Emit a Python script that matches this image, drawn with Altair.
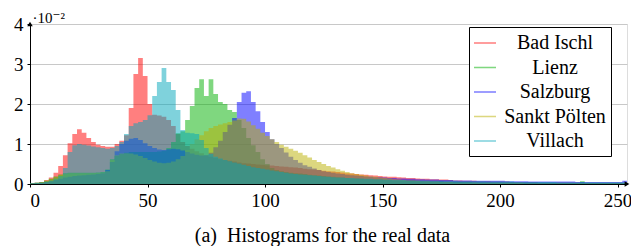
import altair as alt
import pandas as pd

cities = ["Bad Ischl", "Lienz", "Salzburg", "Sankt Pölten", "Villach"]
colors = ["#ff0000", "#00af00", "#0000ff", "#b9af00", "#00a5b9"]

x_domain = [0, 254]
y_domain = [0, 4]
x_ticks = [0, 50, 100, 150, 200, 250]
y_ticks = [0, 1, 2, 3, 4]

# bin starts (width 2) for grey values 0..255
bins = list(range(0, 256, 2))

# relative frequencies in units of 1e-2, one value per bin
bad_ischl = [
    0.02, 0.03, 0.05, 0.10, 0.16, 0.28, 0.45, 0.72, 1.02, 1.25,
    1.37, 1.28, 1.15, 1.05, 0.98, 0.95, 0.93, 0.93, 1.00, 1.08,
    1.22, 1.90, 2.75, 3.15, 2.70, 2.00, 1.73, 1.71, 1.68, 1.60,
    1.45, 1.25, 1.05, 0.95, 0.88, 0.82, 0.77, 0.72, 0.68, 0.65,
    0.62, 0.60, 0.58, 0.56, 0.54, 0.52, 0.51, 0.50, 0.49, 0.48,
    0.47, 0.46, 0.45, 0.44, 0.43, 0.42, 0.41, 0.40, 0.38, 0.37,
    0.36, 0.35, 0.33, 0.32, 0.31, 0.30, 0.29, 0.27, 0.26, 0.25,
    0.24, 0.23, 0.22, 0.21, 0.20, 0.19, 0.18, 0.18, 0.17, 0.16,
    0.15, 0.15, 0.14, 0.13, 0.13, 0.12, 0.12, 0.11, 0.11, 0.10,
    0.09, 0.09, 0.08, 0.08, 0.08, 0.07, 0.07, 0.07, 0.06, 0.06,
    0.06, 0.06, 0.05, 0.05, 0.05, 0.05, 0.05, 0.05, 0.04, 0.04,
    0.04, 0.04, 0.04, 0.04, 0.04, 0.04, 0.04, 0.03, 0.03, 0.03,
    0.03, 0.03, 0.03, 0.03, 0.03, 0.03, 0.03, 0.04,
]
lienz = [
    0.02, 0.03, 0.05, 0.08, 0.13, 0.19, 0.24, 0.27, 0.28, 0.28,
    0.28, 0.28, 0.28, 0.28, 0.29, 0.30, 0.36, 0.62, 0.70, 0.75,
    0.78, 0.80, 0.80, 0.80, 0.80, 0.80, 0.80, 0.81, 0.83, 0.90,
    1.05, 1.27, 1.32, 1.60, 1.95, 2.40, 2.62, 2.20, 2.62, 2.25,
    2.05, 2.00, 1.85, 1.80, 1.60, 1.40, 1.15, 0.97, 0.80, 0.62,
    0.50, 0.40, 0.35, 0.32, 0.30, 0.28, 0.27, 0.26, 0.25, 0.23,
    0.22, 0.21, 0.20, 0.19, 0.18, 0.17, 0.16, 0.15, 0.14, 0.14,
    0.13, 0.12, 0.12, 0.11, 0.11, 0.10, 0.10, 0.09, 0.09, 0.08,
    0.08, 0.08, 0.07, 0.07, 0.06, 0.06, 0.06, 0.06, 0.05, 0.05,
    0.05, 0.05, 0.05, 0.05, 0.04, 0.04, 0.04, 0.04, 0.04, 0.04,
    0.04, 0.04, 0.04, 0.03, 0.03, 0.03, 0.03, 0.03, 0.03, 0.03,
    0.03, 0.03, 0.03, 0.03, 0.03, 0.03, 0.03, 0.07, 0.03, 0.03,
    0.03, 0.03, 0.03, 0.03, 0.03, 0.03, 0.03, 0.03,
]
salzburg = [
    0.01, 0.02, 0.03, 0.05, 0.07, 0.10, 0.13, 0.16, 0.18, 0.20,
    0.21, 0.22, 0.23, 0.24, 0.25, 0.27, 0.35, 0.55, 0.82, 1.00,
    1.08, 1.13, 1.15, 1.10, 1.02, 0.95, 0.90, 0.86, 0.85, 0.87,
    0.88, 0.87, 0.84, 0.80, 0.76, 0.73, 0.71, 0.72, 0.78, 0.92,
    1.08, 1.30, 1.48, 1.65, 2.05, 2.28, 2.32, 2.05, 1.82, 1.55,
    1.30, 1.12, 1.00, 0.90, 0.79, 0.68, 0.60, 0.53, 0.47, 0.43,
    0.39, 0.35, 0.32, 0.30, 0.28, 0.26, 0.25, 0.23, 0.22, 0.21,
    0.20, 0.19, 0.18, 0.17, 0.17, 0.16, 0.15, 0.15, 0.14, 0.14,
    0.13, 0.13, 0.12, 0.12, 0.11, 0.11, 0.11, 0.10, 0.10, 0.10,
    0.09, 0.09, 0.09, 0.09, 0.08, 0.08, 0.08, 0.08, 0.08, 0.08,
    0.08, 0.07, 0.07, 0.07, 0.07, 0.07, 0.06, 0.06, 0.06, 0.06,
    0.06, 0.06, 0.06, 0.06, 0.06, 0.06, 0.05, 0.05, 0.05, 0.05,
    0.05, 0.05, 0.05, 0.05, 0.05, 0.05, 0.08, 0.12,
]
sankt_poelten = [
    0.02, 0.03, 0.05, 0.08, 0.12, 0.17, 0.22, 0.25, 0.27, 0.27,
    0.27, 0.27, 0.27, 0.27, 0.27, 0.28, 0.32, 0.60, 0.72, 0.76,
    0.77, 0.76, 0.74, 0.70, 0.65, 0.60, 0.56, 0.53, 0.52, 0.53,
    0.56, 0.62, 0.70, 0.85, 1.00, 1.12, 1.22, 1.32, 1.40, 1.45,
    1.49, 1.52, 1.55, 1.59, 1.64, 1.63, 1.56, 1.47, 1.38, 1.28,
    1.20, 1.12, 1.05, 0.98, 0.93, 0.88, 0.83, 0.78, 0.72, 0.66,
    0.60, 0.55, 0.50, 0.45, 0.41, 0.37, 0.33, 0.30, 0.27, 0.25,
    0.23, 0.21, 0.19, 0.18, 0.16, 0.15, 0.14, 0.12, 0.11, 0.10,
    0.09, 0.09, 0.08, 0.07, 0.07, 0.06, 0.06, 0.05, 0.05, 0.05,
    0.04, 0.04, 0.04, 0.04, 0.04, 0.03, 0.03, 0.03, 0.03, 0.03,
    0.03, 0.03, 0.03, 0.03, 0.03, 0.02, 0.02, 0.02, 0.02, 0.02,
    0.02, 0.02, 0.02, 0.02, 0.02, 0.02, 0.02, 0.02, 0.02, 0.02,
    0.02, 0.02, 0.02, 0.02, 0.02, 0.02, 0.02, 0.02,
]
villach = [
    0.02, 0.03, 0.04, 0.06, 0.09, 0.14, 0.20, 0.40, 0.80, 0.97,
    1.00, 0.98, 0.96, 0.94, 0.92, 0.90, 0.88, 0.90, 0.95, 1.05,
    1.25, 1.45, 1.52, 1.55, 1.60, 1.72, 2.20, 2.55, 2.90, 2.55,
    2.35, 1.85, 1.35, 1.28, 1.27, 1.25, 1.10, 0.90, 0.75, 0.68,
    0.64, 0.60, 0.57, 0.54, 0.51, 0.48, 0.45, 0.42, 0.40, 0.38,
    0.36, 0.34, 0.32, 0.30, 0.28, 0.26, 0.25, 0.24, 0.23, 0.22,
    0.21, 0.20, 0.19, 0.18, 0.17, 0.16, 0.16, 0.15, 0.15, 0.14,
    0.14, 0.13, 0.13, 0.12, 0.12, 0.11, 0.11, 0.10, 0.10, 0.10,
    0.09, 0.09, 0.09, 0.09, 0.09, 0.08, 0.08, 0.08, 0.08, 0.08,
    0.08, 0.07, 0.07, 0.07, 0.07, 0.07, 0.07, 0.06, 0.06, 0.06,
    0.06, 0.06, 0.06, 0.05, 0.05, 0.05, 0.05, 0.05, 0.05, 0.05,
    0.05, 0.05, 0.04, 0.04, 0.04, 0.04, 0.04, 0.04, 0.04, 0.04,
    0.04, 0.04, 0.04, 0.04, 0.04, 0.04, 0.04, 0.04,
]

series = [bad_ischl, lienz, salzburg, sankt_poelten, villach]

rows = []
for city, vals in zip(cities, series):
    for b, v in zip(bins, vals):
        rows.append({"city": city, "g": b, "p": v})
    # closing edge of the last bin for the step outline
    rows.append({"city": city, "g": bins[-1] + 2, "p": vals[-1]})
df = pd.DataFrame(rows)

# arrow heads at the ends of both axis lines (taken from the axis domains)
arrows = pd.DataFrame(
    [
        {"g": x_domain[1], "p": y_domain[0], "shape": "triangle-right"},
        {"g": x_domain[0], "p": y_domain[1], "shape": "triangle-up"},
    ]
)

serif = "'Liberation Serif', 'Times New Roman', 'DejaVu Serif', serif"

x_scale = alt.Scale(domain=x_domain, nice=False, zero=False)
y_scale = alt.Scale(domain=y_domain, nice=False)

x_axis = alt.Axis(
    values=x_ticks,
    title=None,
    grid=False,
    tickSize=3,
    labelPadding=4,
    labelFont=serif,
    labelFontSize=19,
    labelColor="black",
    domainColor="black",
    tickColor="black",
)
y_axis = alt.Axis(
    values=y_ticks,
    title="·10⁻²",
    titleAngle=0,
    titleX=2,
    titleY=-2,
    titleAlign="left",
    titleBaseline="alphabetic",
    titleFont=serif,
    titleFontSize=15,
    titleFontWeight="normal",
    titleColor="black",
    grid=True,
    gridColor="#c8c8c8",
    tickSize=3,
    labelPadding=4,
    labelFont=serif,
    labelFontSize=19,
    labelColor="black",
    domainColor="black",
    tickColor="black",
)

areas = (
    alt.Chart(df)
    .mark_area(interpolate="step-after", opacity=0.5, clip=True)
    .encode(
        x=alt.X("g:Q", scale=x_scale, axis=x_axis),
        y=alt.Y("p:Q", stack=None, scale=y_scale, axis=y_axis),
        color=alt.Color(
            "city:N",
            scale=alt.Scale(domain=cities, range=colors),
            legend=alt.Legend(
                title=None,
                orient="none",
                legendX=439,
                legendY=3,
                symbolType="M-1,-0.07H1V0.07H-1Z",
                symbolSize=484,
                symbolOpacity=0.5,
                symbolStrokeWidth=0,
                labelFont=serif,
                labelFontSize=20,
                labelColor="black",
                labelAlign="center",
                labelOffset=59,
                strokeColor="black",
                fillColor="white",
                padding=5,
                rowPadding=3.5,
                cornerRadius=0,
            ),
        ),
    )
)

heads = (
    alt.Chart(arrows)
    .mark_point(filled=True, size=30, color="black", opacity=1)
    .encode(
        x=alt.X("g:Q", scale=x_scale, axis=x_axis),
        y=alt.Y("p:Q", scale=y_scale, axis=y_axis),
        shape=alt.Shape("shape:N", scale=None),
    )
)

chart = (
    alt.layer(areas, heads)
    .properties(
        width=597,
        height=160,
        padding={"left": 22, "top": 16, "right": 4, "bottom": 62},
        autosize=alt.AutoSizeParams(type="none"),
        title=alt.TitleParams(
            "(a)\u00a0\u00a0Histograms for the real data",
            orient="bottom",
            anchor="middle",
            font=serif,
            fontSize=20,
            fontWeight="normal",
            color="black",
            offset=16,
            dx=-6,
        ),
    )
    .configure_view(strokeWidth=0)
    .configure(background="white")
)

chart.save("out.html", embed_options={"renderer": "svg", "actions": False})
